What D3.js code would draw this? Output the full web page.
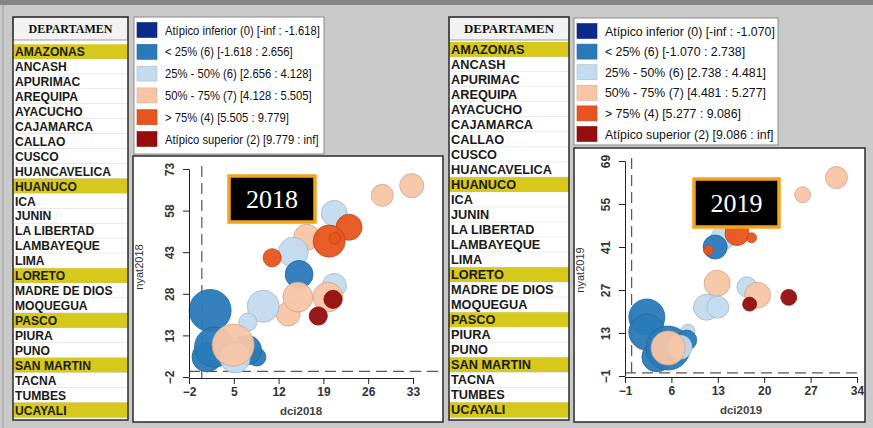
<!DOCTYPE html>
<html>
<head>
<meta charset="utf-8">
<title>Burbujas dci / nyat 2018 - 2019</title>
<script src="https://cdnjs.cloudflare.com/ajax/libs/d3/7.8.5/d3.min.js"></script>
<style>
body, html {
  margin: 0;
  padding: 0;
  background: #c9c9c9;
}
svg { display: block; }
.axis text {
  font-family: "Liberation Sans", Arial, sans-serif;
  font-size: 12px;
  font-weight: bold;
  fill: #333;
}
.axis path, .axis line { stroke: #222; }
</style>
</head>
<body>
<script>
// departamentos (tabla de la izquierda de cada panel)
var departamentos = ["AMAZONAS","ANCASH","APURIMAC","AREQUIPA","AYACUCHO","CAJAMARCA","CALLAO","CUSCO",
  "HUANCAVELICA","HUANUCO","ICA","JUNIN","LA LIBERTAD","LAMBAYEQUE","LIMA","LORETO","MADRE DE DIOS",
  "MOQUEGUA","PASCO","PIURA","PUNO","SAN MARTIN","TACNA","TUMBES","UCAYALI"];
var resaltados = ["AMAZONAS","HUANUCO","LORETO","PASCO","SAN MARTIN","UCAYALI"];

var colores = ["#0c2a8a","#2a7ab9","#c3dbee","#f8c5a6","#e8541e","#950d0d"];

var leyenda2018 = ["Atípico inferior (0)  [-inf : -1.618]", "< 25% (6)  [-1.618 : 2.656]",
  "25% - 50% (6)  [2.656 : 4.128]", "50% - 75% (7)  [4.128 : 5.505]",
  "> 75% (4)  [5.505 : 9.779]", "Atípico superior (2)  [9.779 : inf]"];
var leyenda2019 = ["Atípico inferior (0)  [-inf : -1.070]", "< 25% (6)  [-1.070 : 2.738]",
  "25% - 50% (6)  [2.738 : 4.481]", "50% - 75% (7)  [4.481 : 5.277]",
  "> 75% (4)  [5.277 : 9.086]", "Atípico superior (2)  [9.086 : inf]"];

// burbujas 2018 (x, y, tamaño, categoria de la leyenda)
var dci2018  = [32.8, 28.2, 20.7, 16.4, 23.0, 19.9, 20.8, 14.3, 11.0, 15.2, 20.7, 19.7, 13.5, 15.0, 20.5, 18.2, 9.6, 7.2, 1.3, 0.8, 2.0, 8.6, 7.0, 5.2, 4.9];
var nyat2018 = [67.0, 63.5, 57.0, 48.4, 52.0, 47.0, 48.0, 43.0, 41.0, 35.0, 31.0, 26.8, 20.7, 26.8, 26.0, 20.0, 23.5, 17.8, 22.0, 5.2, 8.8, 5.2, 7.7, 4.8, 9.5];
var tam2018  = [30, 25, 35, 35, 35, 53, 7, 46, 17, 40, 30, 46, 30, 46, 17, 17, 53, 17, 91, 46, 83, 17, 46, 46, 91];
var cat2018  = [3, 3, 2, 3, 4, 4, 4, 2, 4, 1, 2, 3, 3, 3, 5, 5, 2, 2, 1, 1, 1, 1, 1, 2, 3];

// burbujas 2019
var dci2019  = [30.9, 25.8, 14.0, 17.0, 14.5, 13.8, 15.9, 18.1, 12.6, 11.6, 12.9, 17.4, 19.0, 23.7, 17.8, 11.3, 13.0, 2.3, 2.3, 8.5, 3.8, 5.5, 8.3, 7.3, 5.5];
var nyat2019 = [63.6, 58.0, 53.0, 54.0, 49.0, 44.0, 45.4, 44.0, 41.0, 40.0, 29.2, 28.0, 25.3, 24.6, 22.4, 21.4, 21.4, 18.2, 13.3, 13.6, 5.2, 8.1, 10.7, 8.4, 8.1];
var tam2019  = [25, 13, 30, 25, 17, 30, 30, 5, 30, 5, 35, 21, 35, 13, 10, 35, 25, 67, 67, 10, 46, 100, 21, 30, 60];
var cat2019  = [3, 3, 3, 3, 4, 2, 4, 4, 1, 4, 3, 2, 3, 5, 5, 2, 2, 1, 1, 2, 1, 1, 1, 2, 3];

var ticksX2018 = [-2, 5, 12, 19, 26, 33], ticksY2018 = [-2, 13, 28, 43, 58, 73];
var ticksX2019 = [-1, 6, 13, 20, 27, 34], ticksY2019 = [-1, 13, 27, 41, 55, 69];

var W = 873, H = 428;
var svg = d3.select("body").append("svg").attr("width", W).attr("height", H);

svg.append("rect").attr("width", W).attr("height", H).attr("fill", "#c9c9c9");
svg.append("rect").attr("width", W).attr("height", 5).attr("fill", "#858585");
svg.append("line").attr("x1", 3).attr("x2", 3).attr("y1", 5).attr("y2", H)
  .attr("stroke", "#9a9a9a");

function anchoNatural(texto, fuente, peso, tam) {
  var t = svg.append("text").attr("font-family", fuente).attr("font-weight", peso)
    .attr("font-size", tam).text(texto);
  var w = t.node().getComputedTextLength();
  t.remove();
  return w;
}

function tabla(x0, ancho, y0, altoFila, anchoRef, anchoCab) {
  var g = svg.append("g");
  var fuente = "'Liberation Sans', Arial, sans-serif";
  var sx = anchoRef / anchoNatural("HUANCAVELICA", fuente, "bold", 12.5);

  g.append("rect").attr("x", x0).attr("y", 17).attr("width", ancho).attr("height", 420 - 17)
    .attr("fill", "#fff");
  g.append("rect").attr("x", x0).attr("y", 17).attr("width", ancho).attr("height", 23)
    .attr("fill", "#f2f2f2").attr("stroke", "#888").attr("stroke-width", 0.8);
  var fCab = "'Liberation Serif', 'DejaVu Serif', serif";
  var sc = anchoCab / anchoNatural("DEPARTAMEN", fCab, "bold", 11.5);
  g.append("text")
    .attr("transform", "translate(" + (x0 + ancho / 2) + ",32.5) scale(" + sc + ",1)")
    .attr("text-anchor", "middle")
    .attr("font-family", fCab).attr("font-weight", "bold").attr("font-size", 11.5)
    .attr("fill", "#111").text("DEPARTAMEN");

  var fila = g.selectAll("g.fila").data(departamentos).enter().append("g")
    .attr("transform", function(d, i) { return "translate(0," + (y0 + i * altoFila) + ")"; });
  fila.append("rect").attr("x", x0).attr("width", ancho).attr("height", altoFila)
    .attr("fill", function(d) { return resaltados.indexOf(d) >= 0 ? "#d7c91b" : "#fff"; });
  fila.append("line").attr("x1", x0).attr("x2", x0 + ancho)
    .attr("y1", altoFila).attr("y2", altoFila).attr("stroke", "#c4c4c4").attr("stroke-width", 0.7);
  fila.append("text")
    .attr("transform", "translate(" + (x0 + 2) + "," + (altoFila / 2 + 4.5) + ") scale(" + sx + ",1)")
    .attr("font-family", fuente).attr("font-weight", "bold").attr("font-size", 12.5)
    .attr("fill", "#1a1a1a").text(function(d) { return d; });

  g.append("rect").attr("x", x0).attr("y", 17).attr("width", ancho).attr("height", 420 - 17)
    .attr("fill", "none").attr("stroke", "#2b2b2b").attr("stroke-width", 1.5);
}

function leyenda(etiquetas, x0, y0, ancho, alto, paso, anchoTexto) {
  var g = svg.append("g");
  var fuente = "'Liberation Sans', Arial, sans-serif";
  var sx = anchoTexto / anchoNatural(etiquetas[0], fuente, "normal", 12.5);
  g.append("rect").attr("x", x0).attr("y", y0).attr("width", ancho).attr("height", alto)
    .attr("fill", "#fff").attr("stroke", "#8a8a8a").attr("stroke-width", 1);
  var it = g.selectAll("g.item").data(etiquetas).enter().append("g")
    .attr("transform", function(d, i) { return "translate(" + (x0 + 3) + "," + (y0 + 13 + i * paso) + ")"; });
  it.append("rect").attr("x", 0).attr("y", -7.5).attr("width", 20).attr("height", 15)
    .attr("fill", function(d, i) { return colores[i]; })
    .attr("stroke", function(d, i) { return d3.color(colores[i]).darker(0.4); })
    .attr("stroke-width", 0.6);
  it.append("text")
    .attr("transform", "translate(28,4.5) scale(" + sx + ",1)")
    .attr("font-family", fuente).attr("font-size", 12.5).attr("fill", "#111")
    .text(function(d) { return d; });
}

function panel(o) {
  var g = svg.append("g");
  g.append("rect").attr("x", o.px).attr("y", o.py).attr("width", o.pw).attr("height", o.ph)
    .attr("fill", "#fff").attr("stroke", "#2b2b2b").attr("stroke-width", 1.5);

  var x = d3.scaleLinear().domain(d3.extent(o.ticksX)).range(o.rx);
  var y = d3.scaleLinear().domain(d3.extent(o.ticksY)).range(o.ry);
  var r = d3.scaleSqrt().domain([0, 100]).range([0, 22]);

  // lineas de referencia en cero
  g.append("line").attr("x1", x(0)).attr("x2", x(0)).attr("y1", o.ry[1] - 3).attr("y2", o.ry[0] + 1)
    .attr("stroke", "#555").attr("stroke-width", 1.2).attr("stroke-dasharray", "11,6");
  g.append("line").attr("x1", o.rx[0]).attr("x2", o.px + o.pw - 3).attr("y1", y(0)).attr("y2", y(0))
    .attr("stroke", "#555").attr("stroke-width", 1.2).attr("stroke-dasharray", "11,6");

  var datos = o.xs.map(function(v, i) {
    return { x: v, y: o.ys[i], t: o.ts[i], c: o.cs[i] };
  });
  g.append("g").selectAll("circle").data(datos).enter().append("circle")
    .attr("cx", function(d) { return x(d.x); })
    .attr("cy", function(d) { return y(d.y); })
    .attr("r", function(d) { return r(d.t); })
    .attr("fill", function(d) { return colores[d.c]; })
    .attr("fill-opacity", 0.95)
    .attr("stroke", function(d) { return d3.color(colores[d.c]).darker(0.5); })
    .attr("stroke-width", 0.8);

  var ax = g.append("g").attr("class", "axis")
    .attr("transform", "translate(0," + (o.ry[0] + 1) + ")")
    .call(d3.axisBottom(x).tickValues(o.ticksX).tickSize(6).tickSizeOuter(0));
  var ay = g.append("g").attr("class", "axis")
    .attr("transform", "translate(" + o.rx[0] + ",0)")
    .call(d3.axisLeft(y).tickValues(o.ticksY).tickSize(6).tickSizeOuter(0));
  ay.selectAll("text")
    .attr("transform", "rotate(-90)")
    .attr("x", 0).attr("y", -15).attr("dy", 0)
    .attr("text-anchor", "middle");

  g.append("text").attr("x", (o.rx[0] + o.rx[1]) / 2).attr("y", o.ry[0] + 38)
    .attr("text-anchor", "middle").attr("font-family", "'Liberation Sans', Arial, sans-serif")
    .attr("font-size", 11.5).attr("font-weight", "bold").attr("fill", "#444").text(o.tx);
  g.append("text").attr("transform", "translate(" + (o.px + 10) + "," + o.tyY + ") rotate(-90)")
    .attr("text-anchor", "middle").attr("font-family", "'Liberation Sans', Arial, sans-serif")
    .attr("font-size", 11).attr("fill", "#333").text(o.ty);

  // recuadro del año
  g.append("rect").attr("x", o.bx).attr("y", o.by).attr("width", o.bw).attr("height", o.bh)
    .attr("fill", "#000").attr("stroke", "#f2a31e").attr("stroke-width", 3.5);
  g.append("text").attr("x", o.bx + o.bw / 2).attr("y", o.by + o.bh / 2 + 9)
    .attr("text-anchor", "middle").attr("font-family", "'Liberation Serif', 'DejaVu Serif', serif")
    .attr("font-size", 26).attr("fill", "#fff").text(o.anio);
}

tabla(13, 115, 44.3, 14.93, 96, 84);
tabla(449, 120, 42, 15.02, 101, 90);

leyenda(leyenda2018, 134, 17, 190, 137, 21.8, 155);
leyenda(leyenda2019, 574, 18, 204, 127, 20.6, 170);

panel({ px: 133, py: 156, pw: 310, ph: 266, rx: [189, 413], ry: [377, 169],
  ticksX: ticksX2018, ticksY: ticksY2018, xs: dci2018, ys: nyat2018, ts: tam2018, cs: cat2018,
  tx: "dci2018", ty: "nyat2018", tyY: 267, bx: 229, by: 176, bw: 86, bh: 46, anio: "2018" });

panel({ px: 574, py: 148, pw: 291, ph: 274, rx: [625, 857], ry: [376, 161],
  ticksX: ticksX2019, ticksY: ticksY2019, xs: dci2019, ys: nyat2019, ts: tam2019, cs: cat2019,
  tx: "dci2019", ty: "nyat2019", tyY: 270, bx: 694, by: 179, bw: 85, bh: 48, anio: "2019" });
</script>
</body>
</html>
